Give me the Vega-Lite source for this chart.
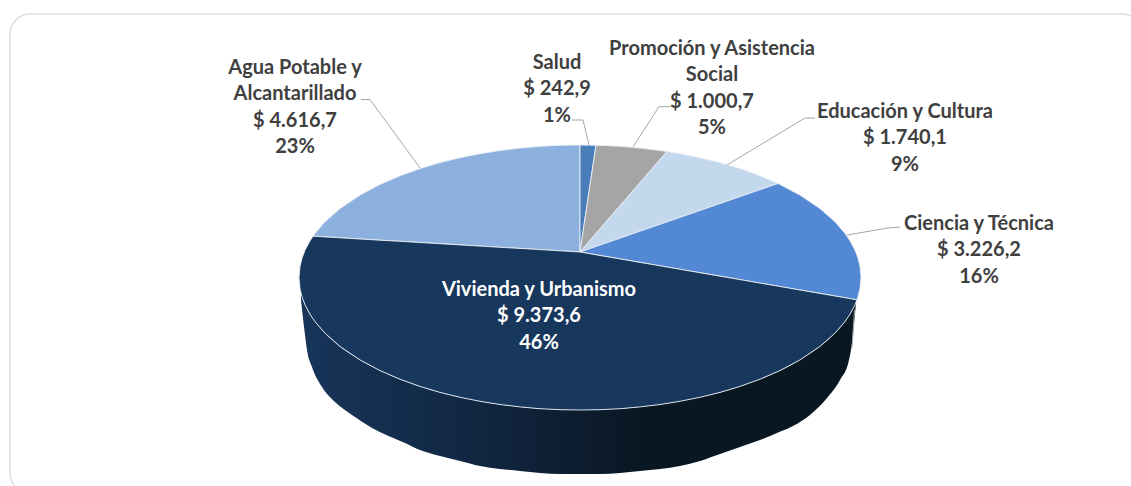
{"$schema":"https://vega.github.io/schema/vega-lite/v6.json","width":1131,"height":486,"padding":0,"autosize":{"type":"none"},"background":"white","config":{"view":{"stroke":null}},
"datasets":{
"marco":[{"nombre":"marco"}],
"pared":[{"x":301,"y":293.3,"y2":300},{"x":305,"y":304.8,"y2":335},{"x":307,"y":308.9,"y2":350},{"x":312,"y":317.3,"y2":367},{"x":322,"y":330,"y2":387},{"x":335,"y":342.4,"y2":402},{"x":352,"y":355,"y2":415},{"x":372,"y":366.6,"y2":428},{"x":405,"y":381.2,"y2":443},{"x":420,"y":386.4,"y2":450},{"x":440,"y":392.4,"y2":456},{"x":460,"y":397.3,"y2":461},{"x":480,"y":401.3,"y2":466},{"x":500,"y":404.5,"y2":469},{"x":520,"y":406.9,"y2":471},{"x":540,"y":408.7,"y2":473},{"x":560,"y":409.7,"y2":474},{"x":580,"y":410,"y2":474},{"x":600,"y":409.7,"y2":474},{"x":620,"y":408.7,"y2":473},{"x":640,"y":406.9,"y2":471},{"x":660,"y":404.5,"y2":469},{"x":680,"y":401.3,"y2":466},{"x":700,"y":397.3,"y2":461},{"x":720,"y":392.4,"y2":454},{"x":740,"y":386.4,"y2":447},{"x":760,"y":379.2,"y2":440},{"x":777,"y":372,"y2":433},{"x":793,"y":363.9,"y2":426},{"x":810,"y":353.6,"y2":415},{"x":827,"y":340.7,"y2":398},{"x":840,"y":327.8,"y2":380},{"x":849,"y":315.8,"y2":360},{"x":852,"y":310.8,"y2":343},{"x":856,"y":302.4,"y2":303}],
"sectores":[
{"c":"Agua Potable y Alcantarillado","x":313,"y":236.2,"y2":236.2},{"c":"Agua Potable y Alcantarillado","x":315,"y":233.4,"y2":236.3},{"c":"Agua Potable y Alcantarillado","x":325,"y":221.8,"y2":236.9},{"c":"Agua Potable y Alcantarillado","x":340,"y":208.6,"y2":237.8},{"c":"Agua Potable y Alcantarillado","x":360,"y":195.1,"y2":239},{"c":"Agua Potable y Alcantarillado","x":380,"y":184.4,"y2":240.2},{"c":"Agua Potable y Alcantarillado","x":400,"y":175.8,"y2":241.3},{"c":"Agua Potable y Alcantarillado","x":420,"y":168.6,"y2":242.5},{"c":"Agua Potable y Alcantarillado","x":440,"y":162.6,"y2":243.7},{"c":"Agua Potable y Alcantarillado","x":460,"y":157.7,"y2":244.9},{"c":"Agua Potable y Alcantarillado","x":480,"y":153.7,"y2":246.1},{"c":"Agua Potable y Alcantarillado","x":500,"y":150.5,"y2":247.3},{"c":"Agua Potable y Alcantarillado","x":520,"y":148.1,"y2":248.4},{"c":"Agua Potable y Alcantarillado","x":540,"y":146.3,"y2":249.6},{"c":"Agua Potable y Alcantarillado","x":560,"y":145.3,"y2":250.8},{"c":"Agua Potable y Alcantarillado","x":580,"y":145,"y2":252},
{"c":"Salud","x":580,"y":145,"y2":252},{"c":"Salud","x":596,"y":145.2,"y2":145.2},
{"c":"Promoción y Asistencia Social","x":580,"y":252,"y2":252},{"c":"Promoción y Asistencia Social","x":596,"y":145.2,"y2":233.5},{"c":"Promoción y Asistencia Social","x":620,"y":146.3,"y2":205.8},{"c":"Promoción y Asistencia Social","x":640,"y":148.1,"y2":182.7},{"c":"Promoción y Asistencia Social","x":660,"y":150.5,"y2":159.6},{"c":"Promoción y Asistencia Social","x":667,"y":151.5,"y2":151.5},
{"c":"Educación y Cultura","x":580,"y":252,"y2":252},{"c":"Educación y Cultura","x":667,"y":151.5,"y2":221.9},{"c":"Educación y Cultura","x":680,"y":153.7,"y2":217.4},{"c":"Educación y Cultura","x":700,"y":157.7,"y2":210.5},{"c":"Educación y Cultura","x":720,"y":162.6,"y2":203.6},{"c":"Educación y Cultura","x":740,"y":168.6,"y2":196.6},{"c":"Educación y Cultura","x":760,"y":175.8,"y2":189.7},{"c":"Educación y Cultura","x":778,"y":183.5,"y2":183.5},
{"c":"Ciencia y Técnica","x":580,"y":252,"y2":252},{"c":"Ciencia y Técnica","x":778,"y":183.5,"y2":286.2},{"c":"Ciencia y Técnica","x":800,"y":195.1,"y2":290},{"c":"Ciencia y Técnica","x":820,"y":208.6,"y2":293.4},{"c":"Ciencia y Técnica","x":835,"y":221.8,"y2":296},{"c":"Ciencia y Técnica","x":845,"y":233.4,"y2":297.7},{"c":"Ciencia y Técnica","x":850,"y":240.8,"y2":298.6},{"c":"Ciencia y Técnica","x":855,"y":250.2,"y2":299.5},{"c":"Ciencia y Técnica","x":857,"y":255.2,"y2":299.8},{"c":"Ciencia y Técnica","x":858,"y":258.2,"y2":296.8},{"c":"Ciencia y Técnica","x":860,"y":266.3,"y2":288.7},{"c":"Ciencia y Técnica","x":861,"y":277.5,"y2":277.5},
{"c":"Vivienda y Urbanismo","x":299,"y":277.5,"y2":277.5},{"c":"Vivienda y Urbanismo","x":300,"y":266.3,"y2":288.7},{"c":"Vivienda y Urbanismo","x":302,"y":258.2,"y2":296.8},{"c":"Vivienda y Urbanismo","x":305,"y":250.2,"y2":304.8},{"c":"Vivienda y Urbanismo","x":310,"y":240.8,"y2":314.2},{"c":"Vivienda y Urbanismo","x":313,"y":236.2,"y2":318.8},{"c":"Vivienda y Urbanismo","x":315,"y":236.3,"y2":321.6},{"c":"Vivienda y Urbanismo","x":325,"y":236.9,"y2":333.2},{"c":"Vivienda y Urbanismo","x":340,"y":237.8,"y2":346.4},{"c":"Vivienda y Urbanismo","x":360,"y":239,"y2":359.9},{"c":"Vivienda y Urbanismo","x":380,"y":240.2,"y2":370.6},{"c":"Vivienda y Urbanismo","x":400,"y":241.3,"y2":379.2},{"c":"Vivienda y Urbanismo","x":420,"y":242.5,"y2":386.4},{"c":"Vivienda y Urbanismo","x":440,"y":243.7,"y2":392.4},{"c":"Vivienda y Urbanismo","x":460,"y":244.9,"y2":397.3},{"c":"Vivienda y Urbanismo","x":480,"y":246.1,"y2":401.3},{"c":"Vivienda y Urbanismo","x":500,"y":247.3,"y2":404.5},{"c":"Vivienda y Urbanismo","x":520,"y":248.4,"y2":406.9},{"c":"Vivienda y Urbanismo","x":540,"y":249.6,"y2":408.7},{"c":"Vivienda y Urbanismo","x":560,"y":250.8,"y2":409.7},{"c":"Vivienda y Urbanismo","x":580,"y":252,"y2":410},{"c":"Vivienda y Urbanismo","x":600,"y":255.5,"y2":409.7},{"c":"Vivienda y Urbanismo","x":620,"y":258.9,"y2":408.7},{"c":"Vivienda y Urbanismo","x":640,"y":262.4,"y2":406.9},{"c":"Vivienda y Urbanismo","x":660,"y":265.8,"y2":404.5},{"c":"Vivienda y Urbanismo","x":680,"y":269.3,"y2":401.3},{"c":"Vivienda y Urbanismo","x":700,"y":272.7,"y2":397.3},{"c":"Vivienda y Urbanismo","x":720,"y":276.2,"y2":392.4},{"c":"Vivienda y Urbanismo","x":740,"y":279.6,"y2":386.4},{"c":"Vivienda y Urbanismo","x":760,"y":283.1,"y2":379.2},{"c":"Vivienda y Urbanismo","x":780,"y":286.5,"y2":370.6},{"c":"Vivienda y Urbanismo","x":800,"y":290,"y2":359.9},{"c":"Vivienda y Urbanismo","x":820,"y":293.4,"y2":346.4},{"c":"Vivienda y Urbanismo","x":835,"y":296,"y2":333.2},{"c":"Vivienda y Urbanismo","x":845,"y":297.7,"y2":321.6},{"c":"Vivienda y Urbanismo","x":850,"y":298.6,"y2":314.2},{"c":"Vivienda y Urbanismo","x":855,"y":299.5,"y2":304.8},{"c":"Vivienda y Urbanismo","x":857,"y":299.8,"y2":299.8}
],
"guias":[
{"c":"Agua","o":1,"x":361,"y":99.5},{"c":"Agua","o":2,"x":370,"y":99.5},{"c":"Agua","o":3,"x":420,"y":168},
{"c":"Salud","o":1,"x":572,"y":120},{"c":"Salud","o":2,"x":583,"y":120},{"c":"Salud","o":3,"x":589,"y":145},
{"c":"Promocion","o":1,"x":670,"y":106.7},{"c":"Promocion","o":2,"x":659,"y":106.7},{"c":"Promocion","o":3,"x":633,"y":147},
{"c":"Educacion","o":1,"x":815,"y":118},{"c":"Educacion","o":2,"x":805,"y":118},{"c":"Educacion","o":3,"x":727,"y":165},
{"c":"Ciencia","o":1,"x":900,"y":227},{"c":"Ciencia","o":2,"x":888,"y":228},{"c":"Ciencia","o":3,"x":847,"y":235},
{"c":"Costura","o":1,"x":854.5,"y":310},{"c":"Costura","o":2,"x":852,"y":348}
],
"etiquetas":[
{"c":"Agua Potable y Alcantarillado","monto":4616.7,"texto":"Agua Potable y\nAlcantarillado\n$ 4.616,7\n23%","x":295,"y":68,"tono":"oscuro"},
{"c":"Salud","monto":242.9,"texto":"Salud\n$ 242,9\n1%","x":557,"y":63,"tono":"oscuro"},
{"c":"Promoción y Asistencia Social","monto":1000.7,"texto":"Promoción y Asistencia\nSocial\n$ 1.000,7\n5%","x":712,"y":49,"tono":"oscuro"},
{"c":"Educación y Cultura","monto":1740.1,"texto":"Educación y Cultura\n$ 1.740,1\n9%","x":905,"y":112,"tono":"oscuro"},
{"c":"Ciencia y Técnica","monto":3226.2,"texto":"Ciencia y Técnica\n$ 3.226,2\n16%","x":979,"y":224,"tono":"oscuro"},
{"c":"Vivienda y Urbanismo","monto":9373.6,"texto":"Vivienda y Urbanismo\n$ 9.373,6\n46%","x":539,"y":290,"tono":"claro"}
]},
"layer":[
{"data":{"name":"marco"},"mark":{"type":"rect","cornerRadius":20,"fill":"white","stroke":"#dedede","strokeWidth":1.5},"encoding":{"x":{"datum":10,"type":"quantitative","scale":{"domain":[0,1131],"nice":false,"zero":false},"axis":null},"x2":{"datum":1142},"y":{"datum":14,"type":"quantitative","scale":{"domain":[486,0],"nice":false,"zero":false},"axis":null},"y2":{"datum":493}}},
{"data":{"name":"pared"},"mark":{"type":"area","orient":"vertical","interpolate":"monotone","color":{"gradient":"linear","x1":0,"x2":1,"y1":0,"y2":0,"stops":[{"offset":0,"color":"#17355a"},{"offset":0.25,"color":"#122a47"},{"offset":0.45,"color":"#0e1f35"},{"offset":0.62,"color":"#091722"},{"offset":1,"color":"#091722"}]}},"encoding":{"x":{"field":"x","type":"quantitative","scale":{"domain":[0,1131],"nice":false,"zero":false},"axis":null},"y":{"field":"y","type":"quantitative","stack":false,"scale":{"domain":[486,0],"nice":false,"zero":false},"axis":null},"y2":{"field":"y2"}}},
{"data":{"name":"sectores"},"mark":{"type":"area","orient":"vertical","stroke":"#e9eef5","strokeWidth":0.9},"encoding":{"x":{"field":"x","type":"quantitative","scale":{"domain":[0,1131],"nice":false,"zero":false},"axis":null},"y":{"field":"y","type":"quantitative","stack":false,"scale":{"domain":[486,0],"nice":false,"zero":false},"axis":null},"y2":{"field":"y2"},"color":{"field":"c","type":"nominal","legend":null,"scale":{"domain":["Salud","Promoción y Asistencia Social","Educación y Cultura","Ciencia y Técnica","Vivienda y Urbanismo","Agua Potable y Alcantarillado"],"range":["#4a7ebb","#a5a5a5","#c3d7ed","#5388d4","#17375d","#8cb1df"]}}}},
{"data":{"name":"guias"},"mark":{"type":"line","color":"#a6a6a6","strokeWidth":1},"encoding":{"x":{"field":"x","type":"quantitative","scale":{"domain":[0,1131],"nice":false,"zero":false},"axis":null},"y":{"field":"y","type":"quantitative","scale":{"domain":[486,0],"nice":false,"zero":false},"axis":null},"detail":{"field":"c"},"order":{"field":"o"}}},
{"data":{"name":"etiquetas"},"mark":{"type":"text","font":"Lato","fontWeight":"bold","fontSize":20,"lineBreak":"\n","lineHeight":26.3,"align":"center","baseline":"middle"},"encoding":{"x":{"field":"x","type":"quantitative","scale":{"domain":[0,1131],"nice":false,"zero":false},"axis":null},"y":{"field":"y","type":"quantitative","scale":{"domain":[486,0],"nice":false,"zero":false},"axis":null},"text":{"field":"texto"},"color":{"field":"tono","type":"nominal","legend":null,"scale":{"domain":["oscuro","claro"],"range":["#404040","#ffffff"]}}}}
],
"resolve":{"scale":{"color":"independent"}}
}
